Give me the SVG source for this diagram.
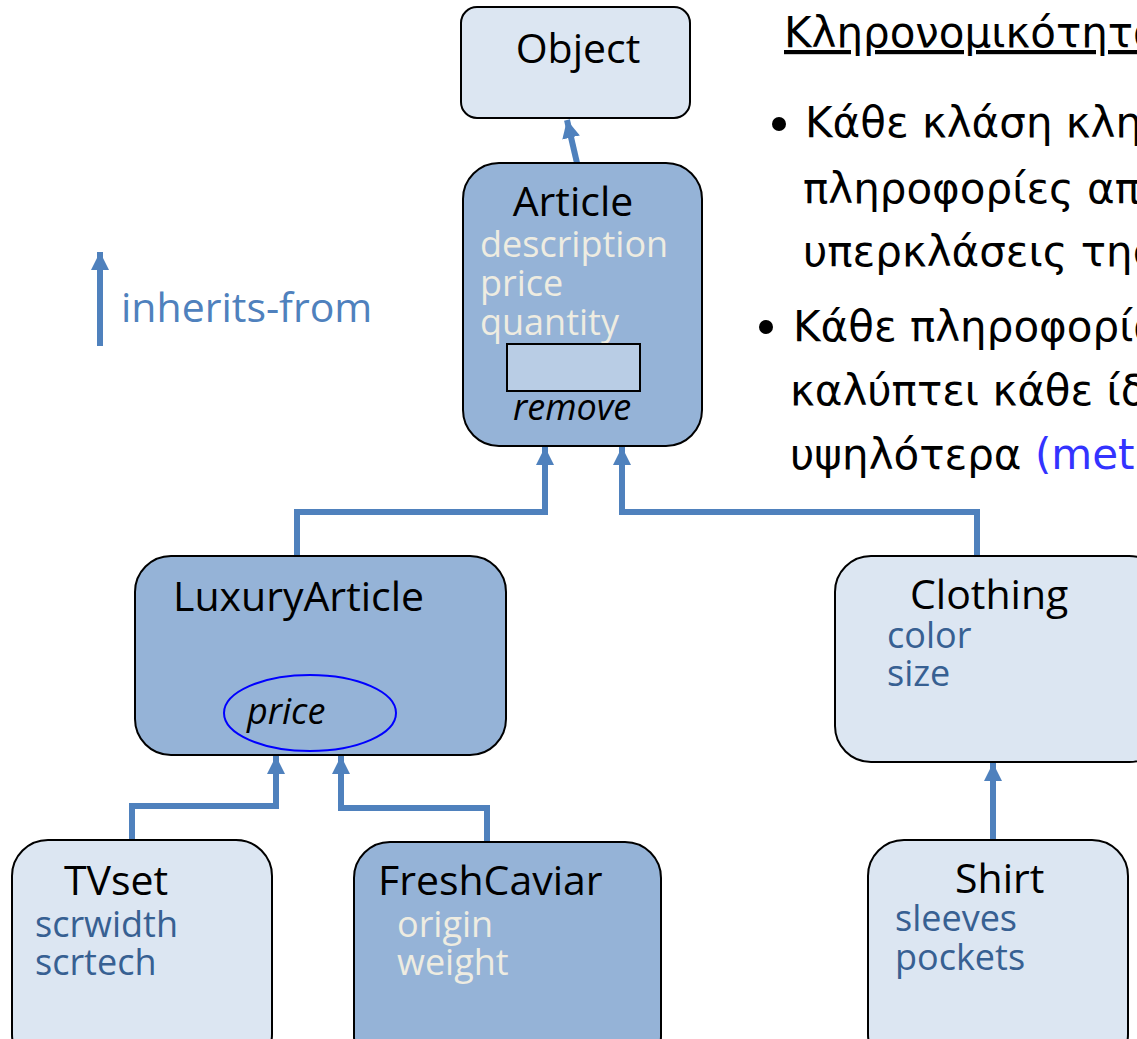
<svg xmlns="http://www.w3.org/2000/svg" width="1137" height="1039" viewBox="0 0 1137 1039">
  <defs>
    <marker id="head" viewBox="0 0 18 18" refX="18" refY="9" markerWidth="18" markerHeight="18" markerUnits="userSpaceOnUse" orient="auto">
      <path d="M0,0 L18,9 L0,18 Z" fill="#4f81bd"/>
    </marker>
  </defs>
  <style>
    .light { fill: #dce6f2; stroke: #000; stroke-width: 2; }
    .dark { fill: #95b3d7; stroke: #000; stroke-width: 2; }
    .name { font-family: "Open Sans", Lato, sans-serif; font-size: 41px; fill: #000; }
    .attr-dark { font-family: "Open Sans", Lato, sans-serif; font-size: 36px; fill: #376092; }
    .attr-light { font-family: "Open Sans", Lato, sans-serif; font-size: 36px; fill: #eeece1; }
    .op { font-family: "Open Sans", Lato, sans-serif; font-size: 36px; font-style: italic; fill: #000; }
    .link { fill: none; stroke: #4f81bd; stroke-width: 6; marker-end: url(#head); }
    .greek { font-family: "DejaVu Sans", "Noto Sans", sans-serif; font-size: 42px; fill: #000; }
  </style>

  <!-- inheritance connectors -->
  <g id="connectors">
    <path class="link" d="M577,163 L567,120"/>
    <path class="link" d="M297,556 L297,512 L545,512 L545,447"/>
    <path class="link" d="M977,556 L977,512 L622,512 L622,447"/>
    <path class="link" d="M132,840 L132,806 L276,806 L276,756"/>
    <path class="link" d="M487,842 L487,808 L341,808 L341,756"/>
    <path class="link" d="M993,840 L993,763"/>
  </g>

  <!-- legend -->
  <g id="legend">
    <path class="link" d="M100,346 L100,252"/>
    <text x="121" y="322" style="font-family: 'Open Sans', Lato, sans-serif; font-size: 41px; fill: #4f81bd;">inherits-from</text>
  </g>

  <g id="object">
    <rect class="light" x="461" y="7" width="229" height="111" rx="16"/>
    <text class="name" x="578" y="63" text-anchor="middle">Object</text>
  </g>

  <g id="article">
    <rect class="dark" x="463" y="163" width="239" height="283" rx="36"/>
    <text class="name" x="573" y="216" text-anchor="middle">Article</text>
    <text class="attr-light" x="480" y="257">description</text>
    <text class="attr-light" x="480" y="296">price</text>
    <text class="attr-light" x="480" y="335">quantity</text>
    <rect x="507" y="344" width="133" height="47" fill="#b9cde5" stroke="#000" stroke-width="2"/>
    <text class="op" x="513" y="420">remove</text>
  </g>

  <g id="luxury-article">
    <rect class="dark" x="135" y="556" width="371" height="199" rx="36"/>
    <text class="name" x="173" y="611">LuxuryArticle</text>
    <ellipse cx="310" cy="713" rx="86" ry="38" fill="none" stroke="#0000ff" stroke-width="2"/>
    <text class="op" x="247" y="724">price</text>
  </g>

  <g id="clothing">
    <rect class="light" x="835" y="556" width="330" height="206" rx="36"/>
    <text class="name" x="910" y="609">Clothing</text>
    <text class="attr-dark" x="887" y="648">color</text>
    <text class="attr-dark" x="887" y="686">size</text>
  </g>

  <g id="tvset">
    <rect class="light" x="12" y="840" width="260" height="230" rx="36"/>
    <text class="name" x="64" y="895">TVset</text>
    <text class="attr-dark" x="35" y="937">scrwidth</text>
    <text class="attr-dark" x="35" y="975">scrtech</text>
  </g>

  <g id="fresh-caviar">
    <rect class="dark" x="354" y="842" width="307" height="230" rx="36"/>
    <text class="name" x="378" y="895">FreshCaviar</text>
    <text class="attr-light" x="397" y="937">origin</text>
    <text class="attr-light" x="397" y="975">weight</text>
  </g>

  <g id="shirt">
    <rect class="light" x="868" y="840" width="260" height="230" rx="36"/>
    <text class="name" x="955" y="893">Shirt</text>
    <text class="attr-dark" x="895" y="931">sleeves</text>
    <text class="attr-dark" x="895" y="970">pockets</text>
  </g>

  <!-- explanatory notes -->
  <g id="notes">
    <text class="greek" x="784" y="47" text-decoration="underline">Κληρονομικότητα</text>
    <circle cx="779" cy="124" r="7" fill="#000"/>
    <text class="greek" x="805" y="137">Κάθε κλάση κληρονομεί</text>
    <text class="greek" x="803" y="203">πληροφορίες από</text>
    <text class="greek" x="803" y="266">υπερκλάσεις της</text>
    <circle cx="766" cy="327" r="7" fill="#000"/>
    <text class="greek" x="793" y="341">Κάθε πληροφορία</text>
    <text class="greek" x="790" y="405">καλύπτει κάθε ίδια</text>
    <text class="greek" x="790" y="469">υψηλότερα <tspan fill="#3333ff">(method</tspan></text>
  </g>
</svg>
